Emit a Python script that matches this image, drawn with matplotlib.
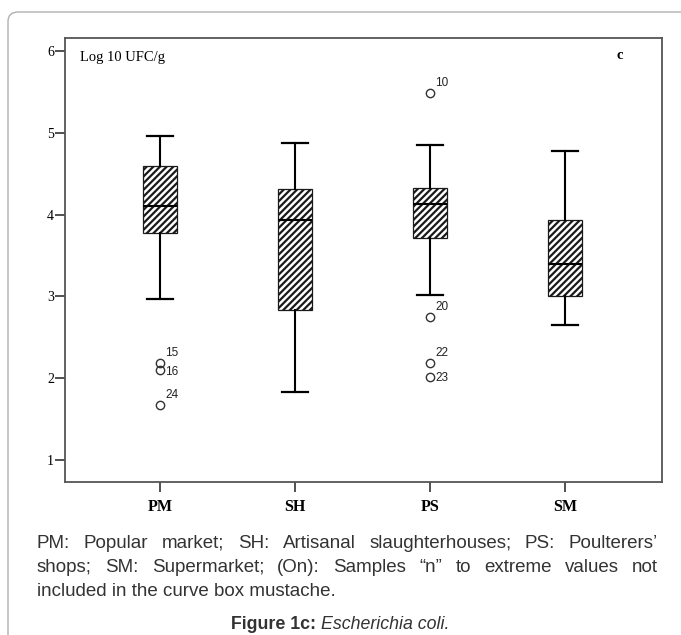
import matplotlib
matplotlib.use('Agg')
import matplotlib.pyplot as plt
from matplotlib.patches import FancyBboxPatch

# data (Log10 UFC/g)
groups = ['PM', 'SH', 'PS', 'SM']
whislo = [2.97, 1.83, 3.02, 2.65]
q1 = [3.78, 2.83, 3.72, 3.00]
med = [4.10, 3.94, 4.13, 3.39]
q3 = [4.60, 4.31, 4.33, 3.93]
whishi = [4.96, 4.88, 4.85, 4.78]
outliers = [[2.18, 2.10, 1.67], [], [5.49, 2.75, 2.18, 2.02], []]
outlier_ids = [['15', '16', '24'], [], ['10', '20', '22', '23'], []]

fig = plt.figure(figsize=(6.81, 6.35), dpi=100)

# light rounded frame around figure
frame = FancyBboxPatch((8 / 681, -0.2), 1.2, 1.2 - 12 / 635,
                       boxstyle='round,pad=0,rounding_size=0.015',
                       transform=fig.transFigure, fc='none', ec='#b0b0b0', lw=1.0)
fig.patches.append(frame)

ax = fig.add_axes([65 / 681, 1 - 482 / 635, 597 / 681, 444 / 635])

stats = []
for i in range(len(groups)):
    stats.append({'whislo': whislo[i], 'q1': q1[i], 'med': med[i], 'q3': q3[i],
                  'whishi': whishi[i], 'fliers': outliers[i], 'label': groups[i]})

plt.rcParams['hatch.linewidth'] = 1.6
bp = ax.bxp(stats, positions=[1, 2, 3, 4], widths=0.25, capwidths=0.19,
            patch_artist=True, showfliers=True,
            boxprops=dict(facecolor='white', edgecolor='#1a1a1a', linewidth=0.9, hatch='/////'),
            medianprops=dict(color='black', linewidth=1.5),
            whiskerprops=dict(color='black', linewidth=1.5),
            capprops=dict(color='black', linewidth=1.6),
            flierprops=dict(marker='o', markerfacecolor='none', markeredgecolor='#333333',
                            markersize=6, markeredgewidth=1.0))

for i in range(len(groups)):
    for v, lab in zip(outliers[i], outlier_ids[i]):
        dy = 0.05
        va = 'bottom'
        if lab in ('16', '23'):
            dy = -0.02
            va = 'center'
        ax.text(i + 1 + 0.04, v + dy, lab, fontsize=8.5, family='Liberation Sans',
                color='#222222', ha='left', va=va)

ax.set_xlim(0.296, 4.72)
ax.set_ylim(0.73, 6.16)
ax.set_yticks([1, 2, 3, 4, 5, 6])
ax.set_xticks([1, 2, 3, 4])
ax.set_xticklabels(groups, family='Liberation Serif', fontsize=11.5, fontweight='bold')
ax.set_yticklabels(['1', '2', '3', '4', '5', '6'], family='Liberation Serif', fontsize=10)
ax.tick_params(axis='both', direction='out', length=7, width=1.2, color='#333333')
ax.tick_params(axis='y', pad=1)
ax.tick_params(axis='x', pad=5)
for s in ax.spines.values():
    s.set_color('#555555')
    s.set_linewidth(1.3)

ax.text(0.025, 0.97, 'Log 10 UFC/g', transform=ax.transAxes, family='Liberation Serif',
        fontsize=10.5, va='top', ha='left')
ax.text(0.93, 0.975, 'c', transform=ax.transAxes, family='Liberation Serif',
        fontsize=10.5, fontweight='bold', va='top', ha='center')

# caption, justified lines
cap_lines = ['PM: Popular market; SH: Artisanal slaughterhouses; PS: Poulterers\u2019',
             'shops; SM: Supermarket; (On): Samples \u201cn\u201d to extreme values not',
             'included in the curve box mustache.']
cap_y = [548, 572, 596]
cap_size = 13.5
x0, x1 = 37 / 681, 658 / 681
fig.canvas.draw()
r = fig.canvas.get_renderer()
for k, line in enumerate(cap_lines):
    y = 1 - cap_y[k] / 635
    if k == len(cap_lines) - 1:
        fig.text(x0, y, line, family='Liberation Sans', fontsize=cap_size, va='baseline',
                 color='#333333')
        continue
    words = line.split(' ')
    ts = [fig.text(0, y, w, family='Liberation Sans', fontsize=cap_size, va='baseline',
                   color='#333333') for w in words]
    ws = [t.get_window_extent(r).width / fig.bbox.width for t in ts]
    gap = (x1 - x0 - sum(ws)) / (len(words) - 1)
    x = x0
    for t, w in zip(ts, ws):
        t.set_x(x)
        x += w + gap

fy = 1 - 629 / 635
t1 = fig.text(0, fy, 'Figure 1c: ', family='Liberation Sans', fontsize=12.8,
              fontweight='bold', va='baseline', color='#333333')
t2 = fig.text(0, fy, 'Escherichia coli.', family='Liberation Sans', fontsize=12.8,
              style='italic', va='baseline', color='#333333')
w1 = t1.get_window_extent(r).width / fig.bbox.width
w2 = t2.get_window_extent(r).width / fig.bbox.width
start = 0.5 - (w1 + w2) / 2
t1.set_x(start)
t2.set_x(start + w1)

fig.savefig('out.png', dpi=100)
